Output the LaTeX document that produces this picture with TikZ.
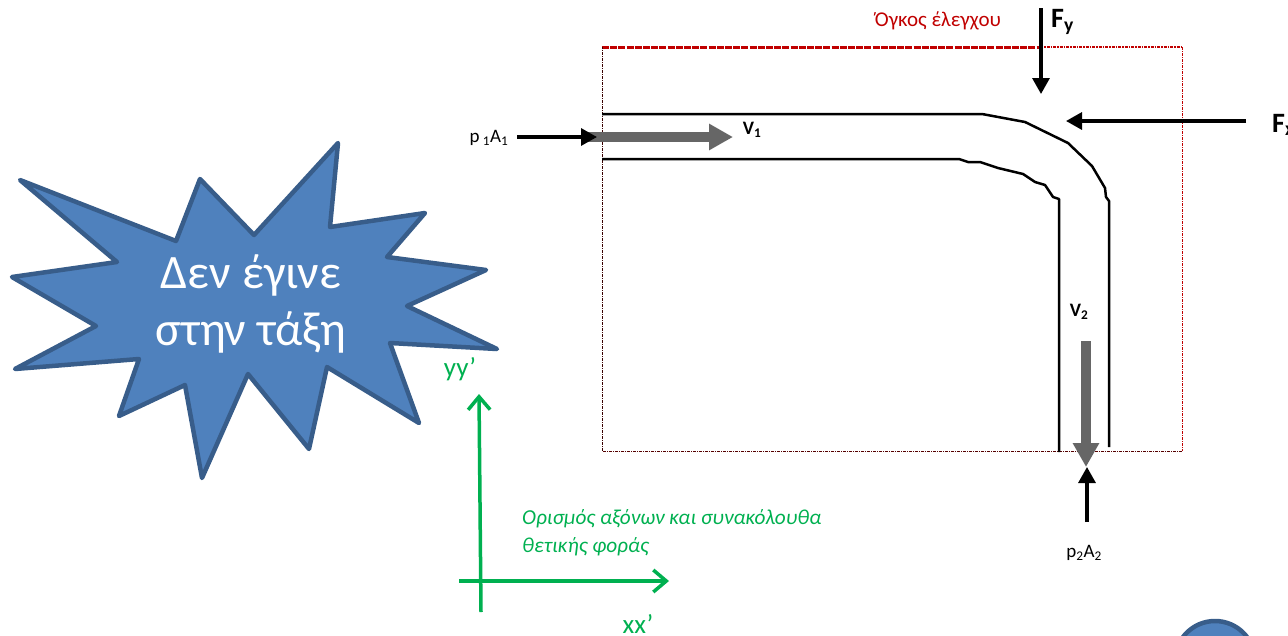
\documentclass[tikz,border=0pt]{standalone}
\usepackage{fontspec}
\setmainfont{Carlito}
\usetikzlibrary{arrows.meta}
\definecolor{starfill}{HTML}{4F81BD}
\definecolor{starline}{HTML}{385D8A}
\definecolor{grn}{HTML}{00B050}
\definecolor{redd}{HTML}{C00000}
\definecolor{gry}{HTML}{666666}
\tikzset{
  lbl/.style={inner sep=0pt,anchor=center,text=black},
  pipeline/.style={draw=black,line width=2.5pt,line join=round},
  force/.style={draw=black,line width=3.2pt,-{Triangle[length=16pt,width=17pt]}},
  vel/.style={draw=gry,line width=9.5pt,-{Triangle[length=24pt,width=25pt]}},
  axis/.style={draw=grn,line width=3.5pt,-{Straight Barb[length=13pt,width=22pt,line width=3.5pt]}},
  vol/.style={draw=redd,line width=.9pt,dash pattern=on 3pt off 1pt on 1pt off 1pt},
  voltop/.style={draw=redd,line width=3pt,dash pattern=on 7pt off 1.2pt},
  voltopthin/.style={draw=redd,line width=2.4pt,dash pattern=on 3pt off 1pt on 1.5pt off 1pt},
}
\begin{document}
\begin{tikzpicture}[x=1pt,y=-1pt]
\useasboundingbox (0,0) rectangle (1288,635);
\clip (0,0) rectangle (1288,635);
% star
\draw[fill=starfill,draw=starline,line width=4.5pt,line join=round]
 (20,180)--(176,241)--(200,179)--(254,235)--(338,143)--(330,227)--(425,213)--(387,257)--(486,270)--(407,306)--(497,349)--(390,343)--(419,423)--(327,367)--(309,449)--(248,374)--(202,478)--(185,385)--(119,416)--(139,359)--(15,369)--(96,326)--(12,277)--(117,262)--cycle;
\node[lbl,text=white,font=\fontsize{48}{57}\selectfont,align=center] (startext) at (251,304) {Δεν έγινε\\στην τάξη};
% bottom right circle
\draw[fill=starfill,draw=starline,line width=4.5pt] (1215,661) circle (40);
% control volume
\coordinate (vtl) at (602,47);\coordinate (vtm) at (1040,47);\coordinate (vtr) at (1182,47);\coordinate (vbr) at (1182,451);\coordinate (vbl) at (602,451);
\draw[voltop] (vtl)--(vtm);
\draw[voltopthin] (vtm)--(vtr);
\draw[vol] (vtr)--(vbr);
\draw[vol,draw=black!55!redd] (vbr)--(vbl);
\draw[vol,draw=black!70!redd] (vbl)--(vtl);
\node[lbl,text=redd,font=\fontsize{21}{24}\selectfont] (vollabel) at (938,21) {Όγκος έλεγχου};
% pipe
\draw[pipeline] (602,114)--(982,114)--(1025,122)--(1068,143)--(1092,166)--(1105,188)--(1106,197)--(1109,201)--(1109,447);
\draw[pipeline] (602,159)--(959,159)--(968,162)--(980,162)--(998,168)--(1023,174)--(1035,182)--(1045,185)--(1053,197)--(1059,199)--(1059,452);
% velocity arrows
\coordinate (v1s) at (587,137);\coordinate (v1e) at (733,137);
\draw[vel] (v1s)--(v1e);
\coordinate (v2s) at (1086,341);\coordinate (v2e) at (1086,467);
\draw[vel] (v2s)--(v2e);
\node[lbl,font=\bfseries\fontsize{19}{20}\selectfont] (v1) at (752,130) {V\textsubscript{1}};
\node[lbl,font=\bfseries\fontsize{19}{20}\selectfont] (v2) at (1079,312) {V\textsubscript{2}};
% forces
\coordinate (p1s) at (517,137);\coordinate (p1e) at (597,137);
\draw[force] (p1s)--(p1e);
\coordinate (p2s) at (1087,522);\coordinate (p2e) at (1087,467);
\draw[force] (p2s)--(p2e);
\coordinate (fys) at (1041,8);\coordinate (fye) at (1041,94);
\draw[force] (fys)--(fye);
\coordinate (fxs) at (1246,121);\coordinate (fxe) at (1066,121);
\draw[force] (fxs)--(fxe);
\node[lbl,font=\fontsize{19}{20}\selectfont] (p1) at (489,138) {p\,\textsubscript{1}A\textsubscript{1}};
\node[lbl,font=\fontsize{19}{20}\selectfont] (p2) at (1084,553) {p\textsubscript{2}A\textsubscript{2}};
\node[lbl,anchor=west,font=\bfseries\fontsize{28}{30}\selectfont] (fy) at (1051,22) {F\textsubscript{y}};
\node[lbl,anchor=west,font=\bfseries\fontsize{28}{30}\selectfont] (fx) at (1272,125) {F\textsubscript{x}};
% axes
\coordinate (xs) at (459,581);\coordinate (xe) at (669,581);
\coordinate (ys) at (481,612);\coordinate (ye) at (479,394);
\draw[axis] (xs)--(xe);
\draw[axis] (ys)--(ye);
\node[lbl,text=grn,font=\fontsize{27}{30}\selectfont] (yy) at (460,369) {yy’};
\node[lbl,text=grn,font=\fontsize{27}{30}\selectfont] (xx) at (638,624) {xx’};
\node[lbl,anchor=west,text=grn,align=left,font=\itshape\fontsize{21.3}{28}\selectfont] (axtext) at (522,533) {Ορισμός αξόνων και συνακόλουθα\\θετικής φοράς};
\end{tikzpicture}
\end{document}
